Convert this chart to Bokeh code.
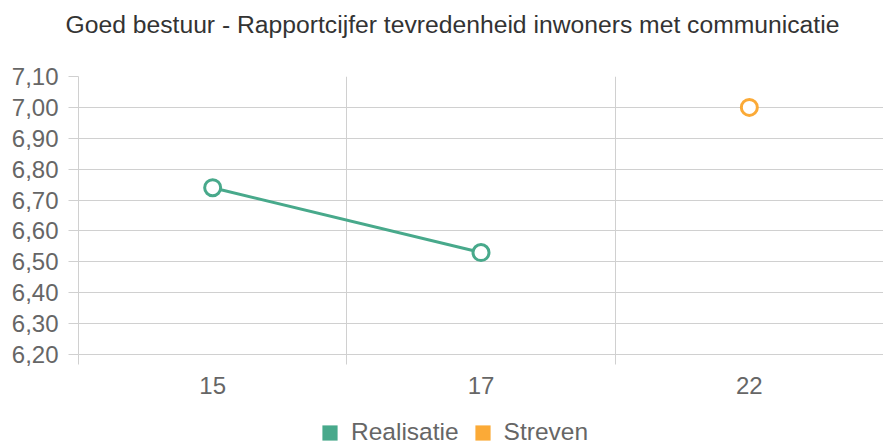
from bokeh.plotting import figure
from bokeh.layouts import column
from bokeh.models import (Range1d, FactorRange, LinearAxis, FixedTicker,
                          CustomJSTickFormatter, Legend, LegendItem, ColumnDataSource)
from bokeh.embed import file_html
from bokeh.resources import INLINE

title_text = "Goed bestuur - Rapportcijfer tevredenheid inwoners met communicatie"
categories = ["15", "17", "22"]
realisatie = [6.74, 6.53, float("nan")]
streven = [float("nan"), float("nan"), 7.00]
y_ticks = [6.2, 6.3, 6.4, 6.5, 6.6, 6.7, 6.8, 6.9, 7.0, 7.1]
series_names = ["Realisatie", "Streven"]
colors = ["#48a98b", "#fbaa37"]

FONT = "Liberation Sans"
GRID = "#d0d0d0"
LABEL = "#666666"
W = 883
LEFT = 78
boundaries = list(range(len(categories)))


def blank_fig(h):
    f = figure(width=W, height=h, output_backend="svg", toolbar_location=None,
               x_axis_location=None, y_axis_location=None,
               min_border=0, min_border_left=LEFT,
               x_range=Range1d(0, 1), y_range=Range1d(0, 1))
    f.outline_line_color = None
    f.xgrid.visible = False
    f.ygrid.visible = False
    f.border_fill_color = "white"
    f.background_fill_color = "white"
    return f


# ---- title strip ----
tf = blank_fig(56)
tf.title.text = title_text
tf.title.align = "left"
tf.title.offset = -13
tf.title.standoff = 16
tf.title.vertical_align = "bottom"
tf.title.text_font = FONT
tf.title.text_font_size = "24.7px"
tf.title.text_font_style = "normal"
tf.title.text_color = "#333333"

# ---- main chart ----
p = figure(width=W, height=354, output_backend="svg", toolbar_location=None,
           x_range=FactorRange(factors=categories),
           y_range=Range1d(y_ticks[0], y_ticks[-1]),
           min_border_left=LEFT, min_border_right=0, min_border_top=20,
           min_border_bottom=56)
p.title.text = ""
p.outline_line_color = None
p.background_fill_color = "white"
p.border_fill_color = "white"

cat_axis = p.xaxis[0]
cat_axis.major_tick_line_color = None
cat_axis.axis_line_color = None
cat_axis.major_label_standoff = 6
cat_axis.major_label_text_font = FONT
cat_axis.major_label_text_font_size = "24px"
cat_axis.major_label_text_color = LABEL

bax = LinearAxis(ticker=FixedTicker(ticks=boundaries))
bax.formatter = CustomJSTickFormatter(code="return '';")
bax.major_label_text_font_size = "1px"
bax.major_label_standoff = 0
bax.major_tick_out = 10
bax.major_tick_in = 0
bax.minor_tick_line_color = None
bax.major_tick_line_color = GRID
bax.axis_line_color = GRID
p.below = [bax, cat_axis]

ya = p.yaxis[0]
ya.ticker = FixedTicker(ticks=y_ticks)
ya.formatter = CustomJSTickFormatter(code="return tick.toFixed(2).replace('.', ',');")
ya.major_tick_out = 10
ya.major_tick_in = 0
ya.minor_tick_line_color = None
ya.major_tick_line_color = GRID
ya.axis_line_color = GRID
ya.major_label_standoff = 10
ya.major_label_text_font = FONT
ya.major_label_text_font_size = "24px"
ya.major_label_text_color = LABEL

p.xgrid.ticker = FixedTicker(ticks=boundaries)
p.xgrid.grid_line_color = GRID
p.ygrid.grid_line_color = GRID

src = ColumnDataSource(dict(cat=categories, real=realisatie, stre=streven))
p.line("cat", "real", source=src, line_color=colors[0], line_width=3)
p.scatter("cat", "real", source=src, size=16, marker="circle",
          line_color=colors[0], line_width=3, fill_color="white")
p.scatter("cat", "stre", source=src, size=16, marker="circle",
          line_color=colors[1], line_width=3, fill_color="white")

# ---- legend strip ----
lf = blank_fig(36)
nan = float("nan")
leg_src = ColumnDataSource(dict(left=[nan], right=[nan], top=[nan], bottom=[nan]))
q0 = lf.quad(left="left", right="right", top="top", bottom="bottom", source=leg_src,
             fill_color=colors[0], line_color=None)
q1 = lf.quad(left="left", right="right", top="top", bottom="bottom", source=leg_src,
             fill_color=colors[1], line_color=None)
legend = Legend(items=[LegendItem(label=series_names[0], renderers=[q0]),
                       LegendItem(label=series_names[1], renderers=[q1])],
                orientation="horizontal", location=(320 - LEFT, 0),
                glyph_width=19, glyph_height=19, label_standoff=12, spacing=14,
                padding=0, margin=0, border_line_color=None, background_fill_alpha=0,
                label_text_font=FONT, label_text_font_size="24.5px",
                label_text_color=LABEL)
lf.add_layout(legend, "center")

layout = column(tf, p, lf, spacing=0)
open("out.html", "w").write(file_html(layout, INLINE))
